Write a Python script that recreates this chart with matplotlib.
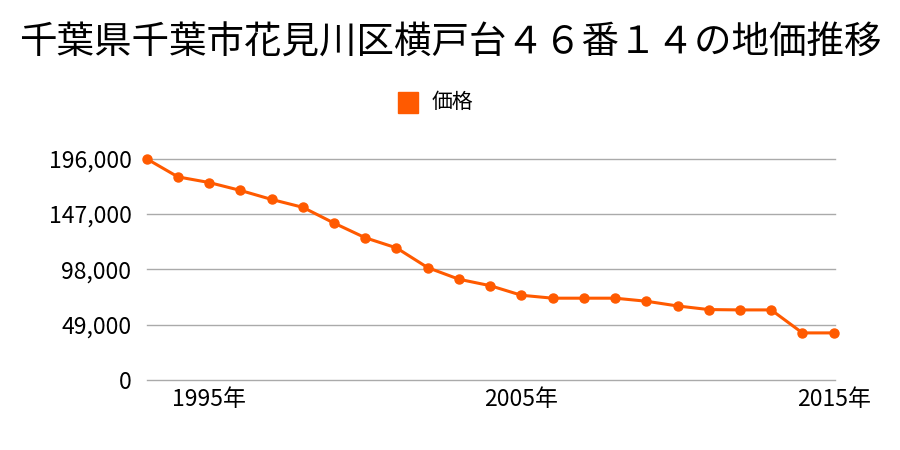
import matplotlib
matplotlib.use("Agg")
import matplotlib.pyplot as plt

plt.rcParams['font.family'] = ['Noto Sans CJK JP', 'DejaVu Sans']

title = "千葉県千葉市花見川区横戸台４６番１４の地価推移"
series_name = "価格"
years = list(range(1993, 2016))
prices = [196000, 180000, 175000, 168000, 160000, 153000, 139000, 126000,
          117000, 99500, 89200, 83500, 75000, 72400, 72400, 72400, 69700,
          65500, 62300, 62000, 62000, 41600, 41600]
yticks = [0, 49000, 98000, 147000, 196000]
xticks = [1995, 2005, 2015]

color = "#ff5a00"

fig = plt.figure(figsize=(9, 4.5), dpi=100)
ax = fig.add_axes([0.163, 0.156, 0.765, 0.491])

ax.plot(years, prices, color=color, lw=2.2, marker="o", ms=6.5,
        clip_on=False, zorder=3)

ax.set_xlim(1993, 2015.05)
ax.set_ylim(0, 196000)
ax.set_yticks(yticks)
ax.set_yticklabels([f"{v:,}" for v in yticks])
ax.set_xticks(xticks)
ax.set_xticklabels([f"{y}年" for y in xticks])
ax.grid(axis="y", color="#aaaaaa", lw=1)
for gl in ax.get_ygridlines():
    gl.set_clip_on(False)
ax.set_axisbelow(True)
for s in ax.spines.values():
    s.set_visible(False)
ax.tick_params(axis="both", length=0, labelsize=16.5, colors="black")
ax.tick_params(axis="y", pad=11)
ax.tick_params(axis="x", pad=6)

fig.text(0.5, 0.905, title, ha="center", va="center", fontsize=27)
fig.patches.append(plt.Rectangle((398 / 900, 1 - 113 / 450), 20 / 900, 21 / 450,
                                 transform=fig.transFigure, color=color))
fig.text(432 / 900, 1 - 102 / 450, series_name, ha="left", va="center", fontsize=15)

fig.savefig("out.png")
